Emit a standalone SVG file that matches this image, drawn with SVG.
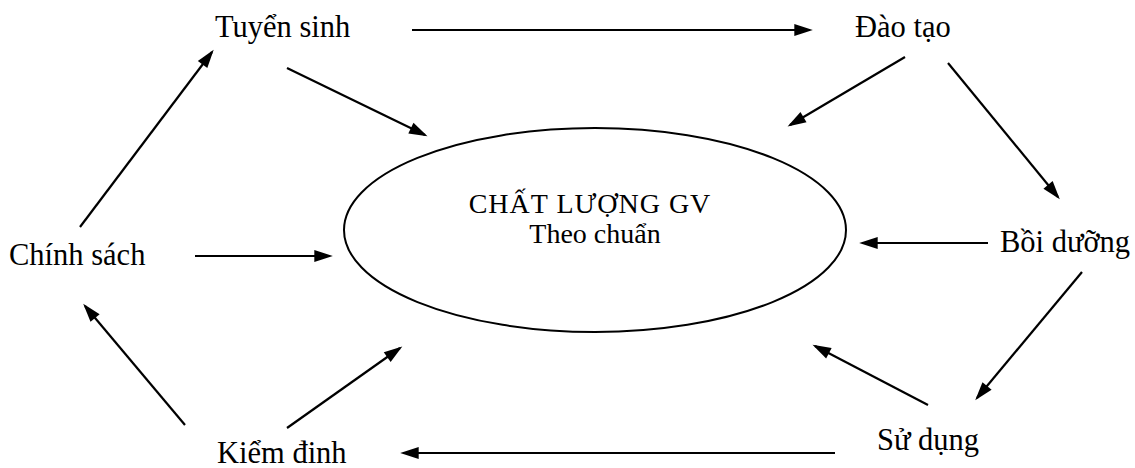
<svg xmlns="http://www.w3.org/2000/svg" width="1135" height="468" viewBox="0 0 1135 468">
<style>
text{font-family:"Liberation Serif","Times New Roman",serif;fill:#000;font-size:30.5px}
.c{text-anchor:middle;font-size:28px}
.e{fill:none;stroke:#000;stroke-width:2}
.a{stroke:#000;stroke-width:2.2;fill:none;marker-end:url(#ah)}
</style>
<defs>
<marker id="ah" viewBox="0 0 10 10" refX="9" refY="5" markerWidth="8" markerHeight="7" markerUnits="userSpaceOnUse" orient="auto" overflow="visible">
<path d="M-2,0 L10,5 L-2,10 z" transform="translate(-9,-3.5) scale(2.2,1.7)" fill="#000"/>
</marker>
</defs>
<rect width="1135" height="468" fill="#fff"/>
<g id="center">
<ellipse class="e" cx="595" cy="230" rx="251" ry="102"/>
<text class="c" x="590" y="213" letter-spacing="1">CHẤT LƯỢNG GV</text>
<text class="c" x="595" y="243">Theo chuẩn</text>
</g>
<g id="tuyensinh"><text x="215" y="37">Tuyển sinh</text></g>
<g id="daotao"><text x="855" y="37">Đào tạo</text></g>
<g id="chinhsach"><text x="9" y="265">Chính sách</text></g>
<g id="boiduong"><text x="1000" y="252">Bồi dưỡng</text></g>
<g id="sudung"><text x="877" y="450">Sử dụng</text></g>
<g id="kiemdinh"><text x="217" y="463">Kiểm đinh</text></g>
<g id="connectors">
<line class="a" x1="412" y1="30" x2="810" y2="30"/>
<line class="a" x1="835" y1="453" x2="403" y2="453"/>
<line class="a" x1="287" y1="68" x2="425" y2="135"/>
<line class="a" x1="905" y1="57" x2="790" y2="125"/>
<line class="a" x1="948" y1="63" x2="1058" y2="197"/>
<line class="a" x1="988" y1="243" x2="862" y2="243"/>
<line class="a" x1="1082" y1="272" x2="977" y2="398"/>
<line class="a" x1="928" y1="405" x2="815" y2="346"/>
<line class="a" x1="287" y1="428" x2="400" y2="348"/>
<line class="a" x1="185" y1="425" x2="85" y2="306"/>
<line class="a" x1="80" y1="227" x2="212" y2="52"/>
<line class="a" x1="195" y1="256" x2="330" y2="256"/>
</g>
</svg>
